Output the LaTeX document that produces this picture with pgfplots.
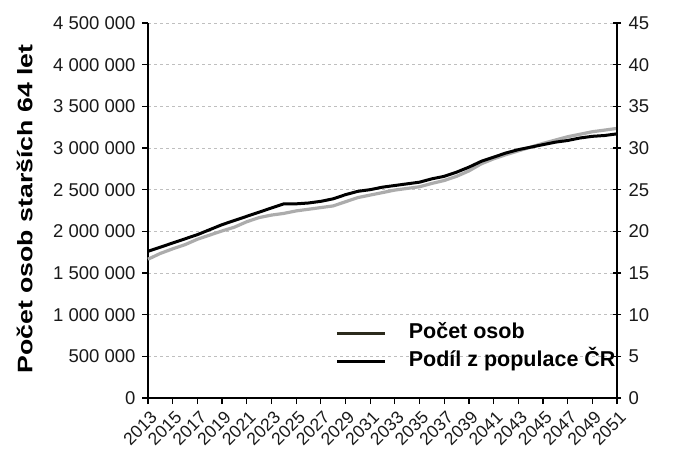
\documentclass[border=0pt]{standalone}
\usepackage{pgfplots}
\pgfplotsset{compat=1.18}
\usepackage{pgfplotstable}
\usepackage{fontspec}
\setmainfont{Liberation Sans}
\definecolor{legdark}{HTML}{2B2A1C}
\pgfplotstableread{
year count share
2013 1665000 17.6
2014 1735000 18.1
2015 1790000 18.6
2016 1840000 19.1
2017 1905000 19.6
2018 1955000 20.2
2019 2005000 20.8
2020 2050000 21.3
2021 2115000 21.8
2022 2165000 22.3
2023 2195000 22.8
2024 2215000 23.3
2025 2245000 23.3
2026 2265000 23.4
2027 2285000 23.6
2028 2305000 23.9
2029 2355000 24.4
2030 2405000 24.8
2031 2435000 25.0
2032 2465000 25.3
2033 2495000 25.5
2034 2515000 25.7
2035 2535000 25.9
2036 2575000 26.3
2037 2610000 26.6
2038 2660000 27.1
2039 2725000 27.7
2040 2810000 28.4
2041 2870000 28.9
2042 2920000 29.4
2043 2965000 29.8
2044 3010000 30.1
2045 3055000 30.4
2046 3095000 30.7
2047 3135000 30.9
2048 3165000 31.2
2049 3195000 31.4
2050 3215000 31.5
2051 3235000 31.7
}\datatable
\begin{document}
\begin{tikzpicture}
\pgfplotsset{
  common/.style={
    width=469pt, height=375pt, scale only axis,
    xmin=2013, xmax=2051,
    /pgf/number format/assume math mode=true,
    axis line style={black, line width=1.3pt, -},
    tick style={black, line width=1.2pt},
    ticklabel style={font=\fontsize{18.5}{20}\selectfont, text=black!90},
  }
}
\begin{axis}[common,
  name=ax,
  axis x line*=bottom, axis y line*=left,
  ymin=0, ymax=4500000,
  ytick={0,500000,1000000,1500000,2000000,2500000,3000000,3500000,4000000,4500000},
  scaled y ticks=false,
  yticklabel style={xshift=-3pt, /pgf/number format/.cd, fixed, 1000 sep={\ }},
  xtick={2013,2015,...,2051},
  minor x tick num=1,
  major tick length=6pt, minor tick length=6pt,
  tick align=outside,
  xticklabel style={rotate=45, anchor=north east, font=\fontsize{17.5}{19}\selectfont, yshift=-2pt, /pgf/number format/1000 sep=},
  ymajorgrids,
  grid style={dashed, gray!50, line width=0.8pt},
  ylabel={\bfseries\fontsize{21}{23}\selectfont Počet osob starších 64 let},
  ylabel style={at={(axis description cs:-0.263,0.504)}, anchor=center, rotate=0, xscale=1.27},
  clip=false,
]
\addplot[gray!65, line width=3.2pt, line join=round] table[x=year, y=count] {\datatable};
\end{axis}
\begin{axis}[common,
  axis x line=none, axis y line*=right,
  ymin=0, ymax=45,
  ytick={0,5,...,45},
  major tick length=8pt,
  tick align=center,
  yticklabel style={xshift=4pt},
  legend style={at={(axis description cs:0.399,0.135)}, anchor=west, draw=none, fill=none,
    inner sep=0pt, row sep=8pt,
    nodes={inner sep=0pt, anchor=west, text height=15pt, text depth=5pt},
    font=\bfseries\fontsize{21.5}{23}\selectfont},
  legend cell align=left,
  legend image code/.code={\draw[#1] (0pt,0pt) -- (48pt,0pt); \path[draw=none] (48pt,0pt) -- (72pt,0pt);},
]
\addplot[black, line width=3pt, line join=round, forget plot] table[x=year, y=share] {\datatable};
\addlegendimage{legdark, line width=3pt}
\addlegendentry{Počet osob}
\addlegendimage{black, line width=3pt}
\addlegendentry{Podíl z populace ČR}
\end{axis}
\path ([xshift=-148pt,yshift=-59pt]ax.south west) rectangle ([xshift=74pt,yshift=23pt]ax.north east);
\end{tikzpicture}
\end{document}
